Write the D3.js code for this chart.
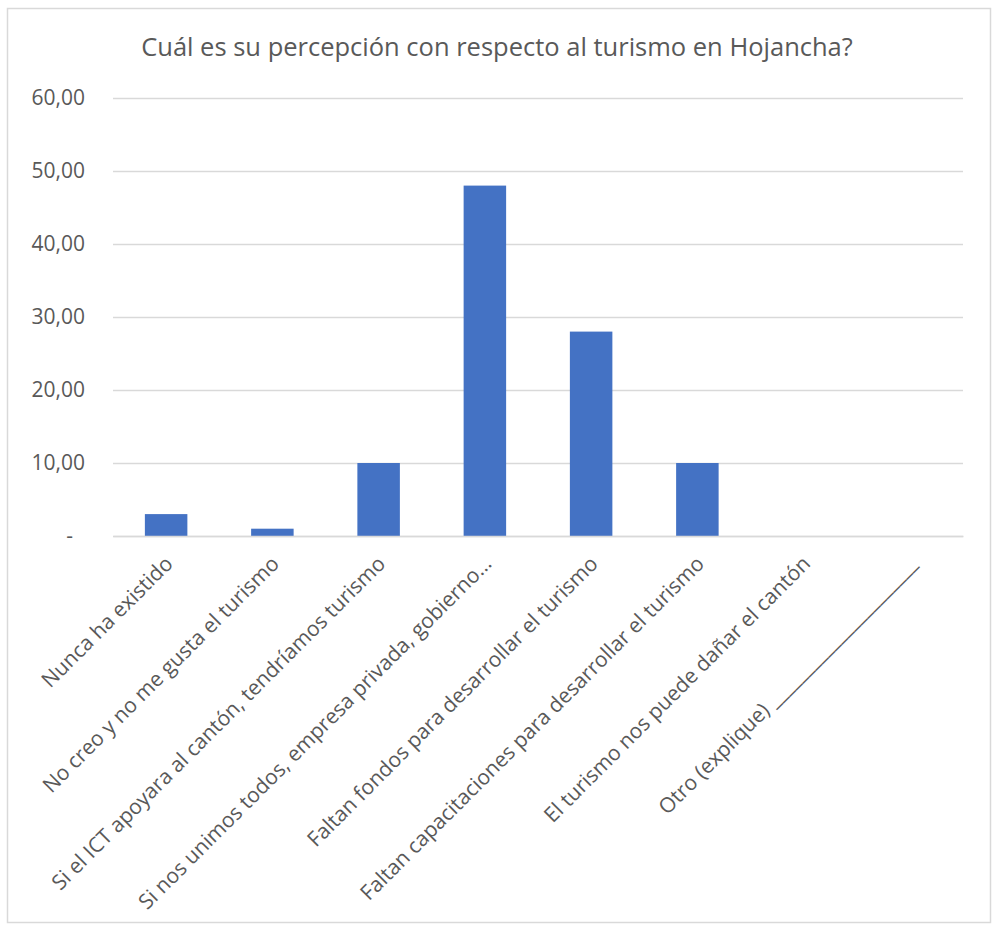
<!DOCTYPE html>
<html>
<head>
<meta charset="utf-8">
<script src="https://cdn.jsdelivr.net/npm/d3@7"></script>
<style>
  html, body { margin: 0; padding: 0; background: #fff; }
  svg { display: block; }
  text { font-family: "Open Sans", "Liberation Sans", sans-serif; fill: #595959; }
</style>
</head>
<body>
<svg id="chart" width="992" height="925"></svg>
<script>
// Survey answers: perception of tourism in Hojancha (percent of respondents)
const categories = [
  "Nunca ha existido",
  "No creo y no me gusta el turismo",
  "Si el ICT apoyara al cantón, tendríamos turismo",
  "Si nos unimos todos, empresa privada, gobierno…",
  "Faltan fondos para desarrollar el turismo",
  "Faltan capacitaciones para desarrollar el turismo",
  "El turismo nos puede dañar el cantón",
  "Otro (explique) ______________________"
];
const values = [3, 1, 10, 48, 28, 10, 0, 0];
const yTicks = [0, 10, 20, 30, 40, 50, 60];
const chartTitle = "Cuál es su percepción con respecto al turismo en Hojancha?";

const svg = d3.select("#chart");

// outer chart frame
svg.append("rect")
  .attr("x", 7.5).attr("y", 8.5)
  .attr("width", 983).attr("height", 914)
  .attr("fill", "#fff")
  .attr("stroke", "#d9d9d9")
  .attr("stroke-width", 1.5);

const plot = { left: 113, right: 963, top: 98, bottom: 536 };

const x = d3.scaleBand()
  .domain(categories)
  .range([plot.left, plot.right])
  .paddingInner(0.6)
  .paddingOuter(0.3);

const y = d3.scaleLinear()
  .domain([0, 60])
  .range([plot.bottom, plot.top]);

// title
svg.append("text")
  .attr("x", 497)
  .attr("y", 56)
  .attr("text-anchor", "middle")
  .style("font-size", "25.5px")
  .text(chartTitle);

// horizontal gridlines + value labels
const fmt = v => v === 0 ? "-" : d3.format(".2f")(v).replace(".", ",");

const yAxis = d3.axisLeft(y)
  .tickValues(yTicks)
  .tickSize(-(plot.right - plot.left))
  .tickPadding(28)
  .tickFormat(fmt);

const gy = svg.append("g")
  .attr("transform", `translate(${plot.left},0)`)
  .call(yAxis);
gy.select(".domain").remove();
gy.selectAll(".tick line")
  .attr("stroke", "#d9d9d9")
  .attr("stroke-width", 1.3);
gy.selectAll(".tick text")
  .style("font-size", "21px")
  .attr("fill", "#595959")
  .attr("dx", d => d === 0 ? -12 : 0);

// bars
svg.append("g")
  .selectAll("rect")
  .data(values)
  .join("rect")
  .attr("x", (d, i) => x(categories[i]))
  .attr("y", d => y(d))
  .attr("width", x.bandwidth())
  .attr("height", d => y(0) - y(d))
  .attr("fill", "#4472c4");

// category axis, labels rotated 45°
const xAxis = d3.axisBottom(x).tickSize(0).tickPadding(0);
const gx = svg.append("g")
  .attr("transform", `translate(0,${plot.bottom})`)
  .call(xAxis);
gx.select(".domain")
  .attr("stroke", "#d9d9d9")
  .attr("stroke-width", 1.3);
gx.selectAll(".tick text")
  .style("font-size", "21px")
  .attr("fill", "#595959")
  .attr("text-anchor", "end")
  .attr("y", 0)
  .attr("dy", 0)
  .attr("transform", "translate(8,29) rotate(-45)");
</script>
</body>
</html>
